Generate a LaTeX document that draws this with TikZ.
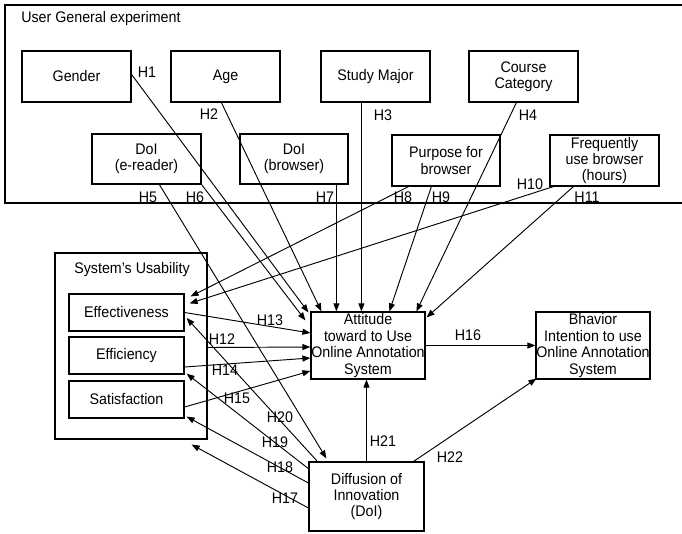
\documentclass[tikz,border=0pt]{standalone}
\usepackage{fontspec}
\setmainfont[FakeStretch=0.93]{Liberation Sans}
\usetikzlibrary{arrows.meta,calc}
\begin{document}
\begin{tikzpicture}[x=0.75pt,y=-0.75pt,
  font=\fontsize{11.5}{12.3}\selectfont,
  box/.style={draw, line width=0.9pt, inner sep=0pt, align=center},
  sz/.style 2 args={minimum width=#1*0.75pt, minimum height=#2*0.75pt},
  arr/.style={line width=0.7pt, -{Triangle[length=6pt,width=4.5pt]}},
  lab/.style={inner sep=0pt}]
\useasboundingbox (0,0) rectangle (682,533);

% outer group
\draw[line width=1.3pt] (684,5) -- (5,5) -- (5,203) -- (684,203);
\node[lab, anchor=west] (title) at (21,19) {User General experiment};

% top boxes
\node[box, sz={109}{51}] (gender) at (76.5,76.5) {Gender};
\node[box, sz={109}{51}] (age) at (225.5,76.5) {Age};
\node[box, sz={109}{51}] (major) at (375.5,76.5) {Study Major};
\node[box, sz={109}{51}] (course) at (523.5,76.5) {Course\\Category};
\node[box, sz={109}{50}] (doie) at (146.5,159) {DoI\\(e-reader)};
\node[box, sz={108}{50}] (doib) at (294,159) {DoI\\(browser)};
\node[box, sz={108}{51}] (purpose) at (446,160.5) {Purpose for\\browser};
\node[box, sz={109}{51}] (freq) at (604.5,160.5) {Frequently\\use browser\\(hours)};

% usability
\node[box, sz={152}{186}] (usab) at (131,346) {};
\node[lab] (usabt) at (132,270) {System's Usability};
\node[box, sz={115}{37}] (eff) at (126.5,312.5) {Effectiveness};
\node[box, sz={115}{37}] (effi) at (126.5,355.5) {Efficiency};
\node[box, sz={115}{37}] (sat) at (126.5,399.5) {Satisfaction};

% main boxes
\node[box, sz={114}{67}] (att) at (368,345.5) {Attitude\\toward to Use\\Online Annotation\\System};
\node[box, sz={114}{67}] (beh) at (593,345.5) {Bhavior\\Intention to use\\Online Annotation\\System};
\node[box, sz={115}{69}] (dif) at (366.5,496.5) {Diffusion of\\Innovation\\(DoI)};

% connectors
\draw[arr] ($(gender.east)+(0,-2)$) -- ($(att.north west)+(-2,1)$);
\draw[arr] ($(age.south west)+(51,0)$) -- ($(att.north west)+(11,0)$);
\draw[arr] ($(major.south west)+(41,0)$) -- ($(att.north west)+(51,0)$);
\draw[arr] ($(course.south west)+(48,0)$) -- ($(att.north west)+(106,0)$);
\draw[arr] ($(doie.south west)+(68,0)$) -- ($(dif.north west)+(18,-3)$);
\draw[arr] (doie.south east) -- ($(att.north west)+(-5,9)$);
\draw[arr] ($(doib.south west)+(97,0)$) -- ($(att.north west)+(26,0)$);
\draw[arr] ($(purpose.south west)+(17,0)$) -- ($(eff.north east)+(6,3)$);
\draw[arr] ($(purpose.south west)+(40,0)$) -- ($(att.north west)+(79,0)$);
\draw[arr] ($(freq.south west)+(4,0)$) -- ($(eff.north east)+(5,10)$);
\draw[arr] ($(freq.south west)+(24,0)$) -- ($(att.north east)+(1,6)$);
\draw[arr] ($(usab.east)+(0,1.5)$) -- ($(att.west)+(0,1.5)$);
\draw[arr] (eff.east) -- ($(att.west)+(0,-12.5)$);
\draw[arr] ($(effi.east)+(0,11.5)$) -- ($(att.west)+(0,12.5)$);
\draw[arr] ($(sat.east)+(0,7.5)$) -- ($(att.west)+(0,25.5)$);
\draw[arr] (att.east) -- (beh.west);
\draw[arr] ($(dif.west)+(0,11.5)$) -- ($(usab.south east)+(-16,5)$);
\draw[arr] ($(dif.west)+(0,-13.5)$) -- ($(sat.south east)+(2,-2)$);
\draw[arr] ($(dif.north west)+(1,8)$) -- ($(effi.south east)+(2,-1)$);
\draw[arr] ($(dif.north west)+(9,0)$) -- ($(eff.east)+(2,5.5)$);
\draw[arr] (dif.north) -- (dif.north |- att.south);
\draw[arr] ($(dif.north east)+(-11,0)$) -- ($(beh.south west)+(1,-1)$);

% labels
\node[lab] (h1) at (147,72) {H1};
\node[lab] (h2) at (209,114) {H2};
\node[lab] (h3) at (383,115) {H3};
\node[lab] (h4) at (528,115) {H4};
\node[lab] (h5) at (148,197) {H5};
\node[lab] (h6) at (195,197) {H6};
\node[lab] (h7) at (325,197) {H7};
\node[lab] (h8) at (403,197) {H8};
\node[lab] (h9) at (441,197) {H9};
\node[lab] (h10) at (530,184) {H10};
\node[lab] (h11) at (587,197) {H11};
\node[lab] (h12) at (222,339) {H12};
\node[lab] (h13) at (270,320) {H13};
\node[lab] (h14) at (225,370) {H14};
\node[lab] (h15) at (237,398) {H15};
\node[lab] (h16) at (468,335) {H16};
\node[lab] (h17) at (285,498) {H17};
\node[lab] (h18) at (280,467) {H18};
\node[lab] (h19) at (275,442) {H19};
\node[lab] (h20) at (280,417) {H20};
\node[lab] (h21) at (383,441) {H21};
\node[lab] (h22) at (450,457) {H22};
\end{tikzpicture}
\end{document}
